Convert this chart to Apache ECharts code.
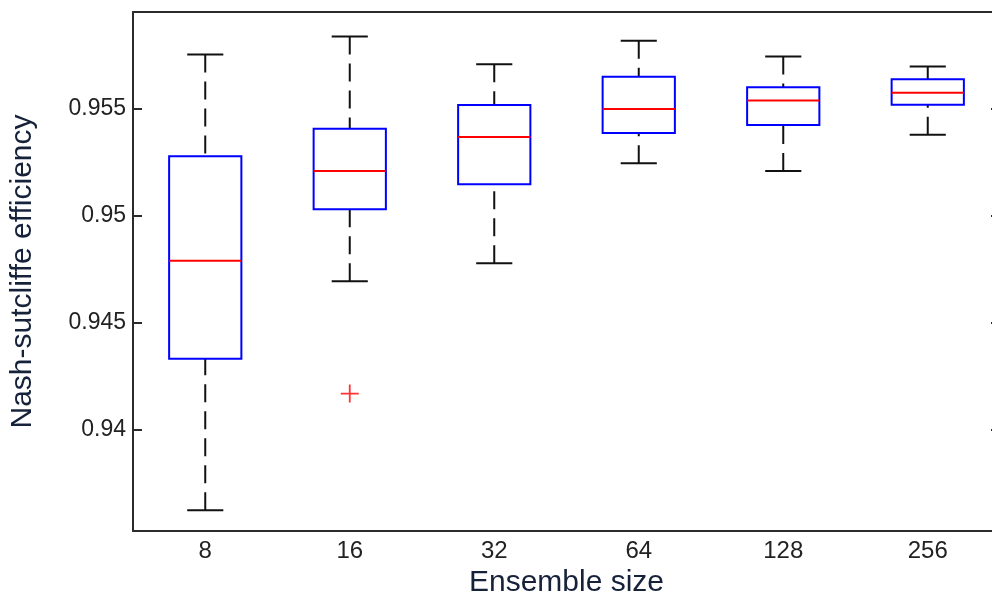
<!DOCTYPE html>
<html>
<head>
<meta charset="utf-8">
<script src="https://cdn.jsdelivr.net/npm/echarts@6/dist/echarts.min.js"></script>
<style>
html,body{margin:0;padding:0;background:#fff;}
#chart{width:992px;height:600px;}
</style>
</head>
<body>
<div id="chart"></div>
<script>
const categories = ['8', '16', '32', '64', '128', '256'];
const lowerWhisker = [0.93622, 0.94692, 0.94776, 0.95243, 0.95207, 0.95376];
const q1Values = [0.94330, 0.95028, 0.95145, 0.95385, 0.95422, 0.95517];
const medianValues = [0.94788, 0.95207, 0.95366, 0.95497, 0.95536, 0.95573];
const q3Values = [0.95276, 0.95405, 0.95516, 0.95647, 0.95598, 0.95636];
const upperWhisker = [0.95752, 0.95836, 0.95706, 0.95816, 0.95742, 0.95695];
const outlierCategory = ['16'];
const outlierValues = [0.94167];

const boxData = categories.map((c, i) => [i, lowerWhisker[i], q1Values[i], medianValues[i], q3Values[i], upperWhisker[i]]);
const outlierData = outlierCategory.map((c, i) => [categories.indexOf(c), outlierValues[i]]);

const FONT = 'Liberation Sans, Arial, sans-serif';
const AXIS_COLOR = '#2b2b2b';
const TITLE_COLOR = '#16223a';
const yMin = 0.93525, yMax = 0.9595;

function renderBox(params, api) {
  const idx = api.value(0);
  const lo = api.coord([idx, api.value(1)]);
  const q1 = api.coord([idx, api.value(2)]);
  const med = api.coord([idx, api.value(3)]);
  const q3 = api.coord([idx, api.value(4)]);
  const hi = api.coord([idx, api.value(5)]);
  const bandW = api.size([1, 0])[0];
  const boxW = bandW * 0.5;
  const capW = bandW * 0.25;
  const x = q1[0];
  const whisk = { stroke: '#111', lineWidth: 2, lineDash: [18, 9] };
  const cap = { stroke: '#111', lineWidth: 2 };
  return {
    type: 'group',
    children: [
      { type: 'line', shape: { x1: x, y1: hi[1], x2: x, y2: q3[1] }, style: whisk },
      { type: 'line', shape: { x1: x, y1: lo[1], x2: x, y2: q1[1] }, style: whisk },
      { type: 'line', shape: { x1: x - capW / 2, y1: hi[1], x2: x + capW / 2, y2: hi[1] }, style: cap },
      { type: 'line', shape: { x1: x - capW / 2, y1: lo[1], x2: x + capW / 2, y2: lo[1] }, style: cap },
      { type: 'rect', shape: { x: x - boxW / 2, y: q3[1], width: boxW, height: q1[1] - q3[1] }, style: { fill: 'none', stroke: '#0000ff', lineWidth: 2 } },
      { type: 'line', shape: { x1: x - boxW / 2, y1: med[1], x2: x + boxW / 2, y2: med[1] }, style: { stroke: '#ff0000', lineWidth: 2 } }
    ]
  };
}

const chart = echarts.init(document.getElementById('chart'), null, { renderer: 'canvas' });
chart.setOption({
  backgroundColor: '#ffffff',
  animation: false,
  grid: { left: 133, width: 867, top: 12, bottom: 69, containLabel: false, outerBoundsMode: 'none' },
  xAxis: [
    {
      type: 'category', data: categories, position: 'bottom', boundaryGap: true,
      axisLine: { lineStyle: { color: AXIS_COLOR, width: 2 } },
      axisTick: { inside: true, alignWithLabel: true, length: 9, lineStyle: { color: AXIS_COLOR, width: 2 } },
      axisLabel: { color: '#222', fontFamily: FONT, fontSize: 24, margin: 8 },
      splitLine: { show: false },
      name: 'Ensemble size', nameLocation: 'middle', nameGap: 35,
      nameTextStyle: { color: TITLE_COLOR, fontFamily: FONT, fontSize: 30 }
    },
    {
      type: 'category', data: categories, position: 'top', boundaryGap: true,
      axisLine: { lineStyle: { color: AXIS_COLOR, width: 2 } },
      axisTick: { inside: true, alignWithLabel: true, length: 9, lineStyle: { color: AXIS_COLOR, width: 2 } },
      axisLabel: { show: false }, splitLine: { show: false }
    }
  ],
  yAxis: [
    {
      type: 'value', min: yMin, max: yMax, splitNumber: 5, position: 'left',
      axisLine: { show: true, lineStyle: { color: AXIS_COLOR, width: 2 } },
      axisTick: { show: true, inside: true, length: 9, lineStyle: { color: AXIS_COLOR, width: 2 } },
      axisLabel: { color: '#222', fontFamily: FONT, fontSize: 23, margin: 7, showMinLabel: false, showMaxLabel: false,
        formatter: v => String(parseFloat(v.toFixed(4))) },
      splitLine: { show: false },
      name: 'Nash-sutcliffe efficiency', nameLocation: 'middle', nameGap: 95, nameRotate: 90,
      nameTextStyle: { color: TITLE_COLOR, fontFamily: FONT, fontSize: 30 }
    },
    {
      type: 'value', min: yMin, max: yMax, splitNumber: 5, position: 'right',
      axisLine: { show: true, lineStyle: { color: AXIS_COLOR, width: 2 } },
      axisTick: { show: true, inside: true, length: 9, lineStyle: { color: AXIS_COLOR, width: 2 } },
      axisLabel: { show: false }, splitLine: { show: false }
    }
  ],
  series: [
    {
      type: 'custom', xAxisIndex: 0, yAxisIndex: 0,
      renderItem: renderBox,
      encode: { x: 0, y: [1, 2, 3, 4, 5] },
      data: boxData, z: 5
    },
    {
      type: 'scatter', xAxisIndex: 0, yAxisIndex: 0,
      symbol: 'path://M0,5L10,5M5,0L5,10', symbolSize: 18,
      itemStyle: { color: 'none', borderColor: '#ff0000', borderWidth: 1.8 },
      data: outlierData, z: 6
    }
  ]
});
</script>
</body>
</html>
